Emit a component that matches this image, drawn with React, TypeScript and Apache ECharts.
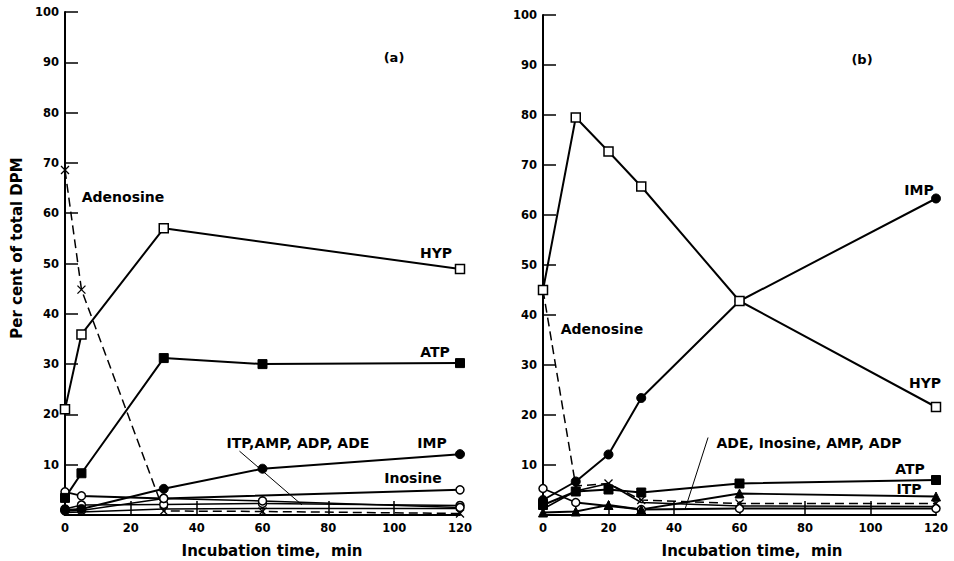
import React, { useEffect, useRef } from "react";
import * as echarts from "echarts";

// ---------- Panel (a) ----------
const timesA = [0, 5, 30, 60, 120];
const timesAHyp = [0, 5, 30, 120];
const hypA = [21, 35.9, 57, 48.9];
const atpA = [3.4, 8.3, 31.2, 30, 30.2];
const adenosineA = [68.6, 44.8, 0.8, 0.7, 0.3];
const impA = [1, 1.2, 5.2, 9.2, 12.1];
const timesAIno = [0, 5, 30, 120];
const inosineA = [4.6, 3.8, 3.3, 5];
const itpA = [1.2, 2.0, 2.1, 2.3, 1.9];
const adpA = [0.8, 0.9, 3.3, 2.8, 1.5];
const ampA = [0.5, 0.6, 1.2, 1.3, 1.3];

// ---------- Panel (b) ----------
const timesB = [0, 10, 20, 30, 60, 120];
const hypB = [45, 79.5, 72.7, 65.7, 42.8, 21.6];
const impB = [3, 6.7, 12.1, 23.4, 42.8, 63.3];
const adenosineB = [45, 5.8, 6.3, 3, 2.3, 2.3];
const atpB = [2, 4.7, 5.1, 4.5, 6.3, 7];
const itpB = [0.5, 0.7, 2, 1.1, 4.3, 3.7];
const timesBIno = [0, 10, 30, 60, 120];
const inosineB = [5.3, 2.5, 1.1, 1.3, 1.3];
const adeB = [1.2, 4.8, 6.3, 2.5, 1.8, 1.7];

// leader lines (data coordinates)
const leaderA = [[53, 12.7], [72, 2]];
const leaderB = [[50.4, 15.5], [43.4, 1.2]];

const xTickValues = [0, 20, 40, 60, 80, 100, 120];

const zip = (xs: number[], ys: number[]) => xs.map((x, i) => [x, ys[i]]);

const FONT = '"DejaVu Sans", "Liberation Sans", sans-serif';
const CROSS = "path://M0 0L10 10M10 0L0 10";

type Mk = "openSq" | "fillSq" | "fillCirc" | "openCirc" | "cross" | "tri" | "none";

function markerStyle(m: Mk) {
  switch (m) {
    case "openSq":
      return { symbol: "rect", symbolSize: 9, itemStyle: { color: "#fff", borderColor: "#000", borderWidth: 1.5 } };
    case "fillSq":
      return { symbol: "rect", symbolSize: 9, itemStyle: { color: "#000", borderColor: "#000", borderWidth: 1 } };
    case "fillCirc":
      return { symbol: "circle", symbolSize: 9, itemStyle: { color: "#000", borderColor: "#000", borderWidth: 1 } };
    case "openCirc":
      return { symbol: "circle", symbolSize: 8, itemStyle: { color: "#fff", borderColor: "#000", borderWidth: 1.5 } };
    case "cross":
      return { symbol: CROSS, symbolSize: 8, itemStyle: { color: "none", borderColor: "#000", borderWidth: 1.3 } };
    case "tri":
      return { symbol: "triangle", symbolSize: 9, itemStyle: { color: "#000", borderColor: "#000", borderWidth: 1 } };
    default:
      return { symbol: "none", symbolSize: 0, itemStyle: { color: "#000" } };
  }
}

function line(
  name: string,
  panel: number,
  data: number[][],
  mk: Mk,
  opts: { dashed?: boolean; width?: number; z?: number; markLine?: any } = {}
) {
  const m = markerStyle(mk);
  return {
    type: "line",
    name,
    xAxisIndex: panel,
    yAxisIndex: panel,
    data,
    showSymbol: mk !== "none",
    symbol: m.symbol,
    symbolSize: m.symbolSize,
    itemStyle: m.itemStyle,
    lineStyle: {
      color: "#000",
      width: opts.width ?? 2,
      type: opts.dashed ? [9, 5] : "solid",
    },
    z: opts.z ?? 3,
    silent: true,
    markLine: opts.markLine,
  };
}

function leader(pts: number[][]) {
  return {
    silent: true,
    symbol: ["none", "none"],
    label: { show: false },
    lineStyle: { color: "#000", width: 1, type: "solid" },
    data: [[{ coord: pts[0] }, { coord: pts[1] }]],
  };
}

function xAxis(gridIndex: number) {
  return {
    type: "value",
    gridIndex,
    min: 0,
    max: 120,
    interval: 20,
    axisLine: { show: true, onZero: false, lineStyle: { color: "#000", width: 2 } },
    axisTick: { show: true, inside: true, length: 14, lineStyle: { color: "#000", width: 1.5 } },
    axisLabel: {
      color: "#000",
      fontFamily: FONT,
      fontWeight: "bold",
      fontSize: 11.5,
      margin: 7,
      customValues: xTickValues,
    },
    splitLine: { show: false },
  };
}

function yAxis(gridIndex: number) {
  return {
    type: "value",
    gridIndex,
    min: 0,
    max: 100,
    interval: 10,
    axisLine: { show: true, onZero: false, lineStyle: { color: "#000", width: 2 } },
    axisTick: { show: true, inside: true, length: 13, lineStyle: { color: "#000", width: 1.5 } },
    axisLabel: {
      color: "#000",
      fontFamily: FONT,
      fontWeight: "bold",
      fontSize: 11.5,
      margin: 6,
      formatter: (v: number) => (v === 0 ? "" : String(v)),
    },
    splitLine: { show: false },
  };
}

function txt(text: string, x: number, y: number, size = 14, rotation = 0) {
  return {
    type: "text",
    x,
    y,
    rotation,
    silent: true,
    style: {
      text,
      font: `bold ${size}px ${FONT}`,
      fill: "#000",
      align: "center",
      verticalAlign: "middle",
      textAlign: "center",
      textVerticalAlign: "middle",
    },
  };
}

export default function App() {
  const ref = useRef<HTMLDivElement>(null);

  useEffect(() => {
    document.body.style.margin = "0";
    if (!ref.current) return;
    const chart = echarts.init(ref.current, undefined, { renderer: "svg" });

    const option = {
      animation: false,
      backgroundColor: "#fff",
      grid: [
        { left: 65, top: 12, width: 395, height: 503 },
        { left: 543, top: 15, width: 393, height: 500 },
      ],
      xAxis: [xAxis(0), xAxis(1)],
      yAxis: [yAxis(0), yAxis(1)],
      series: [
        // panel (a)
        line("ITP", 0, zip(timesA, itpA), "openCirc", { width: 1.5 }),
        line("ADP", 0, zip(timesA, adpA), "openCirc", { width: 1.5 }),
        line("AMP", 0, zip(timesA, ampA), "none", { width: 1.5, markLine: leader(leaderA) }),
        line("Inosine", 0, zip(timesAIno, inosineA), "openCirc", { width: 2 }),
        line("IMP", 0, zip(timesA, impA), "fillCirc", { width: 2 }),
        line("Adenosine", 0, zip(timesA, adenosineA), "cross", { dashed: true, width: 1.5 }),
        line("ATP", 0, zip(timesA, atpA), "fillSq", { width: 2 }),
        line("HYP", 0, zip(timesAHyp, hypA), "openSq", { width: 2, z: 4 }),
        // panel (b)
        line("ADE", 1, zip(timesB, adeB), "none", { width: 1.5, markLine: leader(leaderB) }),
        line("Inosine", 1, zip(timesBIno, inosineB), "openCirc", { width: 1.8 }),
        line("ITP", 1, zip(timesB, itpB), "tri", { width: 1.8 }),
        line("ATP", 1, zip(timesB, atpB), "fillSq", { width: 2 }),
        line("Adenosine", 1, zip(timesB, adenosineB), "cross", { dashed: true, width: 1.5 }),
        line("IMP", 1, zip(timesB, impB), "fillCirc", { width: 2 }),
        line("HYP", 1, zip(timesB, hypB), "openSq", { width: 2, z: 4 }),
      ],
      graphic: [
        txt("Per cent of total DPM", 17, 248, 15, Math.PI / 2),
        txt("Incubation time,  min", 272, 551, 15),
        txt("Incubation time,  min", 752, 551, 15),
        txt("(a)", 394, 57, 13),
        txt("(b)", 862, 59, 13),
        txt("Adenosine", 123, 197, 14),
        txt("HYP", 436, 253, 14),
        txt("ATP", 435, 352, 14),
        txt("ITP,AMP, ADP, ADE", 298, 443, 14),
        txt("IMP", 432, 443, 14),
        txt("Inosine", 413, 478, 14),
        txt("Adenosine", 602, 329, 14),
        txt("IMP", 919, 190, 14),
        txt("HYP", 925, 383, 14),
        txt("ADE, Inosine, AMP, ADP", 809, 443, 14),
        txt("ATP", 910, 469, 14),
        txt("ITP", 909, 489, 14),
      ],
    };

    chart.setOption(option as any);
    return () => chart.dispose();
  }, []);

  return (
    <div
      ref={ref}
      style={{ position: "absolute", left: 0, top: 0, width: 954, height: 561, background: "#fff" }}
    />
  );
}
